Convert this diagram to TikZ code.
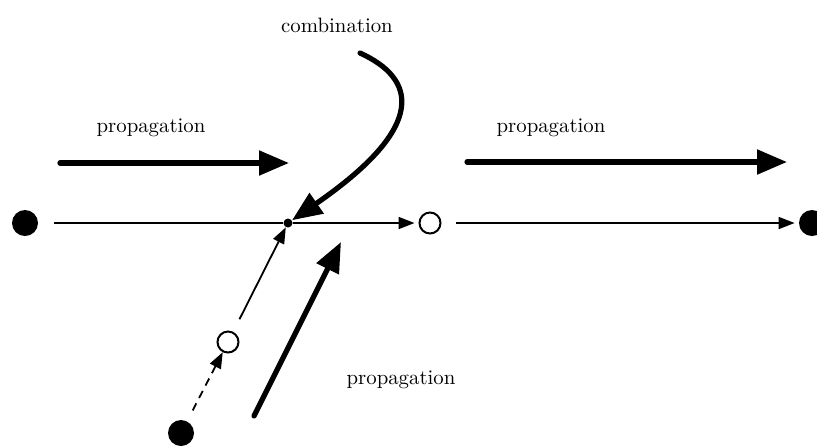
\documentclass[tikz,border=0pt]{standalone}
\usepackage{tikz}
\usetikzlibrary{arrows.meta,positioning}

\begin{document}
\begin{tikzpicture}[
        x=0.5pt, y=-0.5pt,
        bigdot/.style={circle, fill, inner sep=0pt, minimum size=13pt},
        smalldot/.style={circle, fill, inner sep=0pt, minimum size=4.5pt},
        opendot/.style={circle, draw, line width=1pt, inner sep=0pt, minimum size=10.5pt},
        flow/.style={line width=0.9pt, -{Triangle[length=8pt,width=6pt]}},
        prop/.style={line width=2.6pt, line cap=round, -{Triangle[length=15pt,width=12pt]}},
        lbl/.style={font=\fontsize{10.4}{12}\selectfont}
      ]
        \useasboundingbox (0,0) rectangle (817,447);

        % states on the main line
        \node[bigdot] (left) at (25,223) {};
        \node[smalldot] (meet) at (288,223) {};
        \node[opendot] (mid) at (430,223) {};
        \node[bigdot] (right) at (812,223) {};

        % states on the side branch
        \node[opendot] (side) at (228,342) {};
        \node[bigdot] (start) at (181,433) {};

        \draw[line width=0.9pt, shorten <=8pt] (left) -- (meet);
        \draw[flow, shorten >=2pt] (meet) -- (mid);
        \draw[flow, shorten <=7pt, shorten >=2pt] (mid) -- (right);
        \draw[flow, shorten <=7pt] (side) -- (meet);
        \draw[flow, dash pattern=on 4pt off 3pt, shorten <=6pt] (start) -- (side);

        % propagation arrows
        \coordinate (pa1) at (60,163);
        \coordinate (pb1) at (289,163);
        \coordinate (pa2) at (467,162);
        \coordinate (pb2) at (787,162);
        \coordinate (pa3) at (254,416);
        \coordinate (pb3) at (341,242);
        \draw[prop] (pa1) -- (pb1);
        \draw[prop] (pa2) -- (pb2);
        \draw[prop] (pa3) -- (pb3);

        \node[lbl] (prop1) at (151,128) {propagation};
        \node[lbl] (prop2) at (551,128) {propagation};
        \node[lbl] (prop3) at (401,380) {propagation};

        % combination
        \node[lbl] (comb) at (337,25) {combination};
        \coordinate (cstart) at (360,53);
        \draw[prop] (cstart) .. controls (415,78) and (430,125) .. (meet);

      \end{tikzpicture}
\end{document}
